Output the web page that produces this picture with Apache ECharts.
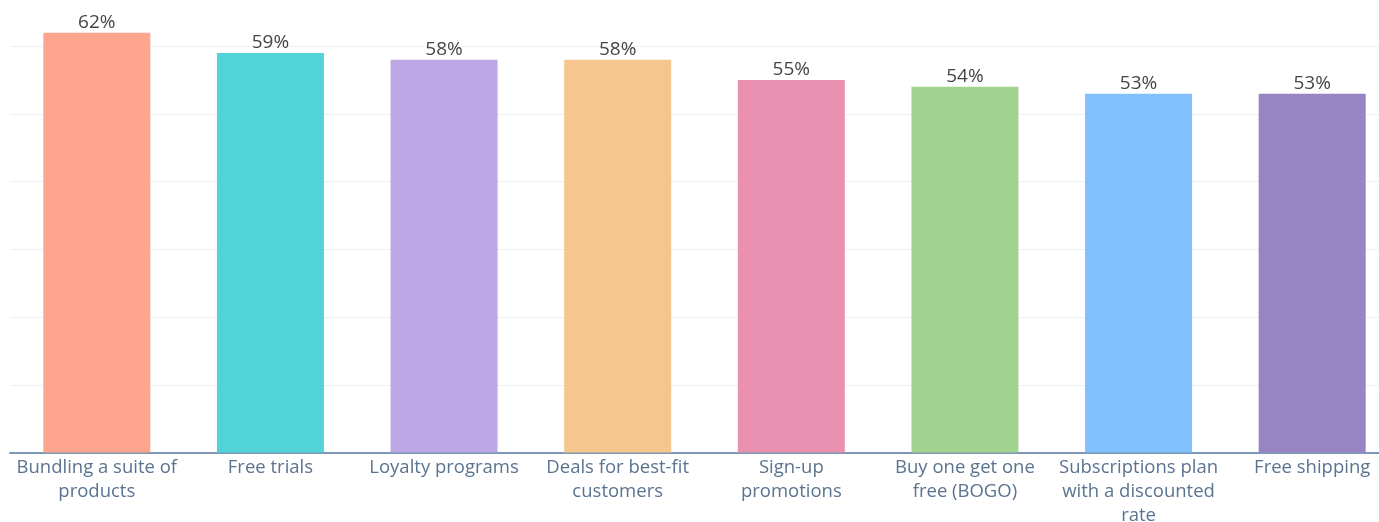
<!DOCTYPE html>
<html>
<head>
<meta charset="utf-8">
<script src="https://cdn.jsdelivr.net/npm/echarts@6/dist/echarts.min.js"></script>
<style>
html,body{margin:0;padding:0;background:#fff;}
#chart{width:1379px;height:522px;}
</style>
</head>
<body>
<div id="chart"></div>
<script>
const categories = [
  "Bundling a suite of\nproducts",
  "Free trials",
  "Loyalty programs",
  "Deals for best-fit\ncustomers",
  "Sign-up\npromotions",
  "Buy one get one\nfree (BOGO)",
  "Subscriptions plan\nwith a discounted\nrate",
  "Free shipping"
];
const values = [62, 59, 58, 58, 55, 54, 53, 53];
const barColors = ["#fea58e", "#51d3d9", "#bda7e7", "#f5c68e", "#ea90b1", "#a2d28f", "#81c1fd", "#9784c2"];

const chart = echarts.init(document.getElementById('chart'), null, {renderer: 'canvas'});
chart.setOption({
  animation: false,
  grid: {left: 10, top: 32.7, width: 1389, height: 419.8, containLabel: false, outerBoundsMode: 'none'},
  xAxis: {
    type: 'category',
    data: categories,
    axisLine: {show: true, lineStyle: {color: '#7c98b6', width: 2}},
    axisTick: {show: false},
    axisLabel: {
      interval: 0,
      color: '#5a7390',
      fontFamily: 'Open Sans',
      fontSize: 18.5,
      lineHeight: 24,
      margin: 3
    }
  },
  yAxis: {
    type: 'value',
    min: 0, max: 62, interval: 10,
    axisLine: {show: false},
    axisTick: {show: false},
    axisLabel: {show: false},
    splitLine: {showMaxLine: false, lineStyle: {color: '#eceff3', width: 1}}
  },
  series: [{
    type: 'bar',
    data: values.map((v, i) => ({value: v, itemStyle: {color: barColors[i]}})),
    barWidth: 107,
    label: {
      show: true,
      position: 'top',
      formatter: '{c}%',
      color: '#454545',
      fontFamily: 'Open Sans',
      fontSize: 19,
      distance: 1
    }
  }]
});
</script>
</body>
</html>
